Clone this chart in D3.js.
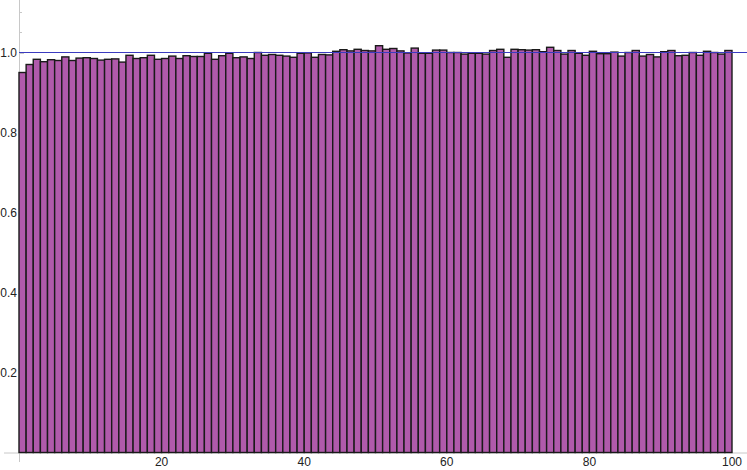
<!DOCTYPE html>
<html>
<head>
<meta charset="utf-8">
<script src="https://cdn.jsdelivr.net/npm/d3@7"></script>
<style>
  body { margin: 0; background: #fff; }
  text { font-family: "Liberation Sans", Arial, sans-serif; font-size: 12px; fill: #222; }
</style>
</head>
<body>
<div id="chart"></div>
<script>
// bin heights, one per unit bin from 0 to 100
var values = [
  0.950, 0.970, 0.983, 0.977, 0.982, 0.980, 0.989, 0.980, 0.986, 0.987,
  0.985, 0.981, 0.983, 0.984, 0.976, 0.993, 0.985, 0.987, 0.993, 0.983,
  0.985, 0.991, 0.985, 0.992, 0.990, 0.990, 0.998, 0.983, 0.992, 0.998,
  0.987, 0.989, 0.985, 1.000, 0.993, 0.995, 0.993, 0.991, 0.988, 0.998,
  0.999, 0.988, 0.995, 0.994, 1.003, 1.007, 1.004, 1.008, 1.005, 1.004,
  1.017, 1.008, 1.010, 1.004, 0.999, 1.011, 0.998, 0.998, 1.006, 1.006,
  1.000, 1.000, 0.996, 0.998, 0.998, 0.996, 1.005, 1.008, 0.988, 1.008,
  1.007, 1.006, 1.007, 1.002, 1.013, 1.005, 0.996, 1.005, 0.998, 0.993,
  1.003, 0.997, 0.997, 1.001, 0.991, 1.000, 1.005, 0.991, 0.995, 0.989,
  1.002, 1.005, 0.992, 0.993, 1.000, 0.993, 1.003, 1.000, 0.996, 1.005
];
var xTicks = [20, 40, 60, 80, 100];
var yTicks = [0.2, 0.4, 0.6, 0.8, 1.0];
var refLine = [1.0];

var W = 747, H = 470;

var x = d3.scaleLinear().domain([0, 100]).range([19, 732]);
var y = d3.scaleLinear().domain([0, 1]).range([452.5, 52.5]);

var svg = d3.select('#chart').append('svg')
  .attr('width', W)
  .attr('height', H);

// axis lines, mathematica style (slight overhang)
svg.append('line')
  .attr('x1', x(0) + 0.5).attr('x2', x(0) + 0.5)
  .attr('y1', 0).attr('y2', 462)
  .style('stroke', '#c8c8c8').style('stroke-width', 1);
svg.append('line')
  .attr('x1', 4).attr('x2', W)
  .attr('y1', y(0) + 0.5).attr('y2', y(0) + 0.5)
  .style('stroke', '#c8c8c8').style('stroke-width', 1);

// minor ticks on y axis (pointing in)
var yMinor = d3.range(1, 23).map(function(d) { return d * 0.05; });
svg.selectAll('.ytick').data(yMinor).enter().append('line')
  .attr('class', 'ytick')
  .attr('x1', x(0)).attr('x2', function(d) { return x(0) + (Math.abs(d * 5 - Math.round(d * 5)) < 1e-6 ? 5 : 3); })
  .attr('y1', function(d) { return Math.round(y(d)) + 0.5; })
  .attr('y2', function(d) { return Math.round(y(d)) + 0.5; })
  .style('stroke', '#c8c8c8');

// bars
var bw = x(1) - x(0);
svg.selectAll('.bar').data(values).enter().append('rect')
  .attr('class', 'bar')
  .attr('x', function(d, i) { return x(i); })
  .attr('y', function(d) { return y(d); })
  .attr('width', bw)
  .attr('height', function(d) { return y(0) - y(d); })
  .style('fill', '#b05aab')
  .style('stroke', '#1a1a1a')
  .style('stroke-width', 1.4);

// reference line at 1
svg.selectAll('.ref').data(refLine).enter().append('line')
  .attr('class', 'ref')
  .attr('x1', x(0)).attr('x2', W)
  .attr('y1', function(d) { return y(d); })
  .attr('y2', function(d) { return y(d); })
  .style('stroke', '#3b3bbf')
  .style('stroke-width', 1.2);

// tick labels
svg.selectAll('.ylab').data(yTicks).enter().append('text')
  .attr('class', 'ylab')
  .attr('x', 17)
  .attr('y', function(d) { return y(d) + 4.5; })
  .attr('text-anchor', 'end')
  .text(function(d) { return d3.format('.1f')(d); });

svg.selectAll('.xlab').data(xTicks).enter().append('text')
  .attr('class', 'xlab')
  .attr('x', function(d) { return x(d); })
  .attr('y', 466)
  .attr('text-anchor', 'middle')
  .text(function(d) { return d; });
</script>
</body>
</html>
